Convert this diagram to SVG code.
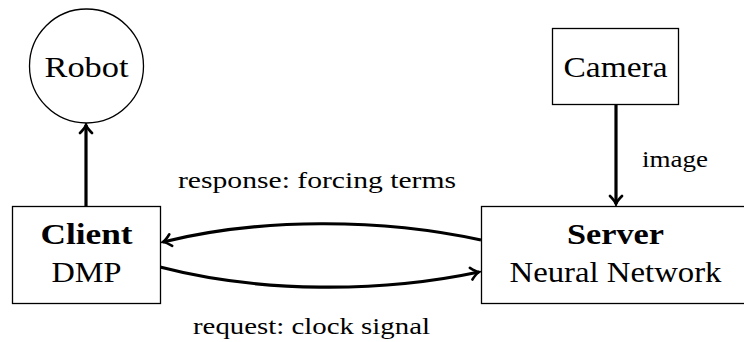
<svg xmlns="http://www.w3.org/2000/svg" width="744" height="342" viewBox="0 0 744 342" font-family="Liberation Serif, DejaVu Serif, serif">
<defs>
<style>
.box{fill:#fff;stroke:#000;stroke-width:1.3}
.t{font-size:30px;fill:#000;text-anchor:middle}
.b{font-weight:bold}
.l{font-size:23px;fill:#000}
.c{fill:none;stroke:#000;stroke-width:3.2}
</style>
<marker id="ah" viewBox="-10 -8 12 16" refX="0" refY="0" markerWidth="12" markerHeight="16" markerUnits="userSpaceOnUse" orient="auto">
<path d="M-8,-6 Q-3,-1 0,0 Q-3,1 -8,6" fill="none" stroke="#000" stroke-width="2.6" stroke-linecap="round"/>
</marker>
</defs>
<g id="connectors">
<path class="c" d="M86,206 L86,125" marker-end="url(#ah)"/>
<path class="c" d="M616,105 L616,204" marker-end="url(#ah)"/>
<path class="c" d="M481,240 C380,218 260,218 163,242" marker-end="url(#ah)"/>
<path class="c" d="M160,267 C260,293 380,293 479,272" marker-end="url(#ah)"/>
<text class="l" font-family="Liberation Serif, serif" x="178" y="188" textLength="278" lengthAdjust="spacingAndGlyphs">response: forcing terms</text>
<text class="l" font-family="Liberation Serif, serif" x="193" y="334" textLength="237" lengthAdjust="spacingAndGlyphs">request: clock signal</text>
<text class="l" font-family="Liberation Serif, serif" x="642" y="167" textLength="66" lengthAdjust="spacingAndGlyphs">image</text>
</g>
<g id="robot">
<circle cx="86.5" cy="66" r="57" fill="#fff" stroke="#000" stroke-width="1.3"/>
<text class="t" font-family="Liberation Serif, serif" x="86.5" y="77" textLength="84" lengthAdjust="spacingAndGlyphs">Robot</text>
</g>
<g id="camera">
<rect class="box" x="552.5" y="28.5" width="126" height="76"/>
<text class="t" font-family="Liberation Serif, serif" x="615.5" y="77" textLength="104" lengthAdjust="spacingAndGlyphs">Camera</text>
</g>
<g id="client">
<rect class="box" x="12.5" y="206.5" width="148" height="97"/>
<text class="t b" font-family="Liberation Serif, serif" x="86.5" y="244" textLength="92" lengthAdjust="spacingAndGlyphs">Client</text>
<text class="t" font-family="Liberation Serif, serif" x="86.5" y="282" textLength="70" lengthAdjust="spacingAndGlyphs">DMP</text>
</g>
<g id="server">
<rect class="box" x="481.5" y="206.5" width="268" height="97"/>
<text class="t b" font-family="Liberation Serif, serif" x="615.5" y="244" textLength="97" lengthAdjust="spacingAndGlyphs">Server</text>
<text class="t" font-family="Liberation Serif, serif" x="615.5" y="282" textLength="212" lengthAdjust="spacingAndGlyphs">Neural Network</text>
</g>
</svg>
